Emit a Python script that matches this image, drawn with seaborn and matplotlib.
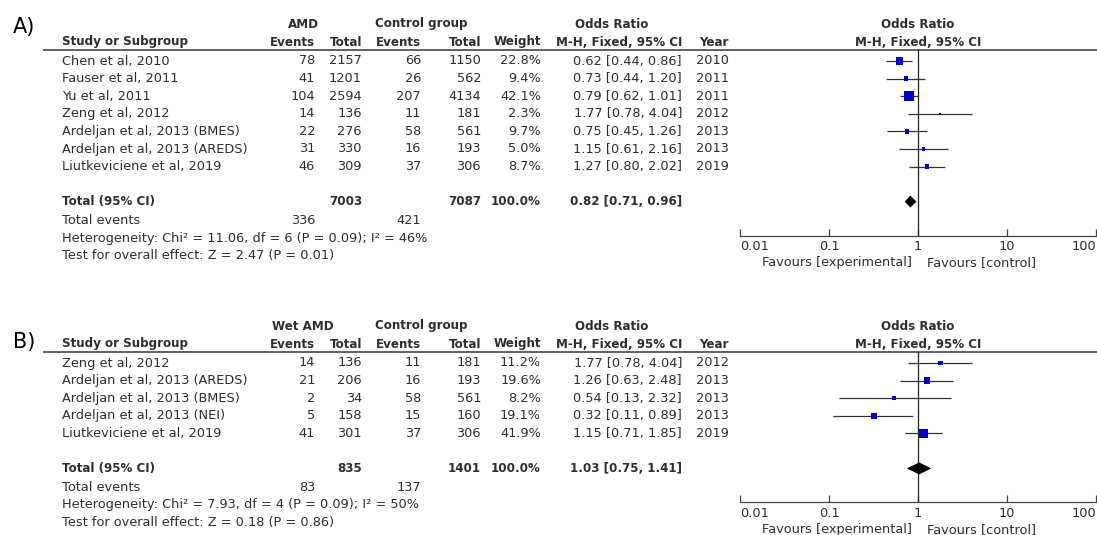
import numpy as np
import pandas as pd
import matplotlib
matplotlib.use("Agg")
import matplotlib.pyplot as plt
from matplotlib.ticker import NullLocator
import seaborn as sns

sns.set_theme(style="white")
plt.rcParams['font.family'] = ['DejaVu Sans']

# ---- A) AMD vs control
a_study = ["Chen et al, 2010", "Fauser et al, 2011", "Yu et al, 2011", "Zeng et al, 2012",
           "Ardeljan et al, 2013 (BMES)", "Ardeljan et al, 2013 (AREDS)",
           "Liutkeviciene et al, 2019"]
a_ev1 = [78, 41, 104, 14, 22, 31, 46]
a_tot1 = [2157, 1201, 2594, 136, 276, 330, 309]
a_ev2 = [66, 26, 207, 11, 58, 16, 37]
a_tot2 = [1150, 562, 4134, 181, 561, 193, 306]
a_weight = [22.8, 9.4, 42.1, 2.3, 9.7, 5.0, 8.7]
a_or = [0.62, 0.73, 0.79, 1.77, 0.75, 1.15, 1.27]
a_lo = [0.44, 0.44, 0.62, 0.78, 0.45, 0.61, 0.80]
a_hi = [0.86, 1.20, 1.01, 4.04, 1.26, 2.16, 2.02]
a_year = [2010, 2011, 2011, 2012, 2013, 2013, 2019]
a_totals = [7003, 7087]
a_events = [336, 421]
a_pooled = [0.82, 0.71, 0.96]
a_het = "Heterogeneity: Chi² = 11.06, df = 6 (P = 0.09); I² = 46%"
a_test = "Test for overall effect: Z = 2.47 (P = 0.01)"

# ---- B) wet AMD vs control
b_study = ["Zeng et al, 2012", "Ardeljan et al, 2013 (AREDS)", "Ardeljan et al, 2013 (BMES)",
           "Ardeljan et al, 2013 (NEI)", "Liutkeviciene et al, 2019"]
b_ev1 = [14, 21, 2, 5, 41]
b_tot1 = [136, 206, 34, 158, 301]
b_ev2 = [11, 16, 58, 15, 37]
b_tot2 = [181, 193, 561, 160, 306]
b_weight = [11.2, 19.6, 8.2, 19.1, 41.9]
b_or = [1.77, 1.26, 0.54, 0.32, 1.15]
b_lo = [0.78, 0.63, 0.13, 0.11, 0.71]
b_hi = [4.04, 2.48, 2.32, 0.89, 1.85]
b_year = [2012, 2013, 2013, 2013, 2019]
b_totals = [835, 1401]
b_events = [83, 137]
b_pooled = [1.03, 0.75, 1.41]
b_het = "Heterogeneity: Chi² = 7.93, df = 4 (P = 0.09); I² = 50%"
b_test = "Test for overall effect: Z = 0.18 (P = 0.86)"

axis_ticks = [0.01, 0.1, 1, 10, 100]
axis_labels = ["0.01", "0.1", "1", "10", "100"]

W, H = 1097, 535
fig = plt.figure(figsize=(W / 100, H / 100), dpi=100)
tab = fig.add_axes([0, 0, 1, 1])
tab.set_xlim(0, W)
tab.set_ylim(H, 0)
tab.axis("off")

TXT = "#2e2e2e"
REG = 9.3
BLD = 8.6
# column anchors (pixels)
X_NAME, X_EV1, X_TOT1, X_EV2, X_TOT2, X_WT, X_OR, X_YR = 62, 315, 362, 421, 481, 541, 682, 729
X0_PLOT, X1_PLOT = 740, 1096


def txt(x, y, s, ha="left", bold=False, **kw):
    tab.text(x, y, s, ha=ha, va="center", color=TXT,
             fontsize=BLD if bold else REG, fontweight="bold" if bold else "normal", **kw)


def panel(label, label_y, group, y0, study, ev1, tot1, ev2, tot2, weight, orr, lo, hi, year,
          totals, events, pooled, het, test):
    df = pd.DataFrame(dict(study=study, ev1=ev1, tot1=tot1, ev2=ev2, tot2=tot2,
                           weight=weight, orr=orr, lo=lo, hi=hi, year=year))
    df["y"] = y0 + 11 + 17.6 * np.arange(len(df))
    y_tot = df["y"].iloc[-1] + 35
    y_axis = y_tot + 34

    tab.text(13, label_y, label, ha="left", va="center", fontsize=15, color="black")
    # headers
    txt(303, y0 - 26, group, ha="center", bold=True)
    txt(421, y0 - 26, "Control group", ha="center", bold=True)
    txt(612, y0 - 26, "Odds Ratio", ha="center", bold=True)
    txt(918, y0 - 26, "Odds Ratio", ha="center", bold=True)
    hy = y0 - 8
    txt(X_NAME, hy, "Study or Subgroup", bold=True)
    for x, s in [(X_EV1, "Events"), (X_TOT1, "Total"), (X_EV2, "Events"), (X_TOT2, "Total"),
                 (X_WT, "Weight"), (X_OR, "M-H, Fixed, 95% CI"), (X_YR, "Year")]:
        txt(x, hy, s, ha="right", bold=True)
    txt(918, hy, "M-H, Fixed, 95% CI", ha="center", bold=True)
    tab.plot([43, W], [y0, y0], color="#555555", lw=1.3, solid_capstyle="butt")

    for r in df.itertuples():
        txt(X_NAME, r.y, r.study)
        txt(X_EV1, r.y, f"{r.ev1}", ha="right")
        txt(X_TOT1, r.y, f"{r.tot1}", ha="right")
        txt(X_EV2, r.y, f"{r.ev2}", ha="right")
        txt(X_TOT2, r.y, f"{r.tot2}", ha="right")
        txt(X_WT, r.y, f"{r.weight:.1f}%", ha="right")
        txt(X_OR, r.y, f"{r.orr:.2f} [{r.lo:.2f}, {r.hi:.2f}]", ha="right")
        txt(X_YR, r.y, f"{r.year}", ha="right")

    txt(X_NAME, y_tot, "Total (95% CI)", bold=True)
    txt(X_TOT1, y_tot, f"{totals[0]}", ha="right", bold=True)
    txt(X_TOT2, y_tot, f"{totals[1]}", ha="right", bold=True)
    txt(X_WT, y_tot, "100.0%", ha="right", bold=True)
    txt(X_OR, y_tot, f"{pooled[0]:.2f} [{pooled[1]:.2f}, {pooled[2]:.2f}]", ha="right", bold=True)
    txt(X_NAME, y_tot + 19, "Total events")
    txt(X_EV1, y_tot + 19, f"{events[0]}", ha="right")
    txt(X_EV2, y_tot + 19, f"{events[1]}", ha="right")
    txt(X_NAME, y_tot + 36.5, het)
    txt(X_NAME, y_tot + 54, test)

    # forest plot
    ax = fig.add_axes([X0_PLOT / W, 1 - y_axis / H, (X1_PLOT - X0_PLOT) / W, (y_axis - y0) / H])
    ax.set_facecolor("none")
    ax.set_xscale("log")
    ax.hlines(df["y"], df["lo"], df["hi"], color="#333333", lw=0.9, zorder=2)
    wmin, wmax = df["weight"].min(), df["weight"].max()
    sns.scatterplot(data=df, x="orr", y="y", size="weight",
                    sizes=(1.15 * wmin, 1.15 * wmax), size_norm=(wmin, wmax),
                    marker="s", color="#0000cc", linewidth=0, legend=False, ax=ax, zorder=3)
    est, dlo, dhi = pooled
    ax.fill([dlo, est, dhi, est], [y_tot, y_tot - 6, y_tot, y_tot + 6], color="black",
            lw=0, zorder=3)
    ax.axvline(1, color="#222222", lw=0.9, zorder=1)
    ax.set_xlim(axis_ticks[0], axis_ticks[-1])
    ax.set_ylim(y_axis, y0)
    ax.set_xlabel("")
    ax.set_ylabel("")
    ax.set_yticks([])
    ax.set_xticks(axis_ticks)
    ax.set_xticklabels(axis_labels)
    ax.xaxis.set_minor_locator(NullLocator())
    ax.tick_params(axis="x", direction="in", length=5, width=0.9, color="#444444",
                   labelsize=REG, labelcolor=TXT, pad=3.5, bottom=True)
    ticklabels = ax.get_xticklabels()
    ticklabels[0].set_horizontalalignment("left")
    ticklabels[-1].set_horizontalalignment("right")
    for side in ["top", "left", "right"]:
        ax.spines[side].set_visible(False)
    ax.spines["bottom"].set_color("#444444")
    ax.spines["bottom"].set_linewidth(0.9)
    ax.annotate("Favours [experimental]", xy=(1, 0), xycoords=("data", "axes fraction"),
                xytext=(-4.5, -19.5), textcoords="offset points", ha="right", va="center",
                fontsize=REG, color=TXT, annotation_clip=False)
    ax.annotate("Favours [control]", xy=(1, 0), xycoords=("data", "axes fraction"),
                xytext=(6.5, -19.5), textcoords="offset points", ha="left", va="center",
                fontsize=REG, color=TXT, annotation_clip=False)


panel("A)", 27, "AMD", 50, a_study, a_ev1, a_tot1, a_ev2, a_tot2, a_weight, a_or, a_lo, a_hi,
      a_year, a_totals, a_events, a_pooled, a_het, a_test)
panel("B)", 342, "Wet AMD", 352, b_study, b_ev1, b_tot1, b_ev2, b_tot2, b_weight, b_or, b_lo,
      b_hi, b_year, b_totals, b_events, b_pooled, b_het, b_test)

fig.savefig("out.png", dpi=100, facecolor="white")
